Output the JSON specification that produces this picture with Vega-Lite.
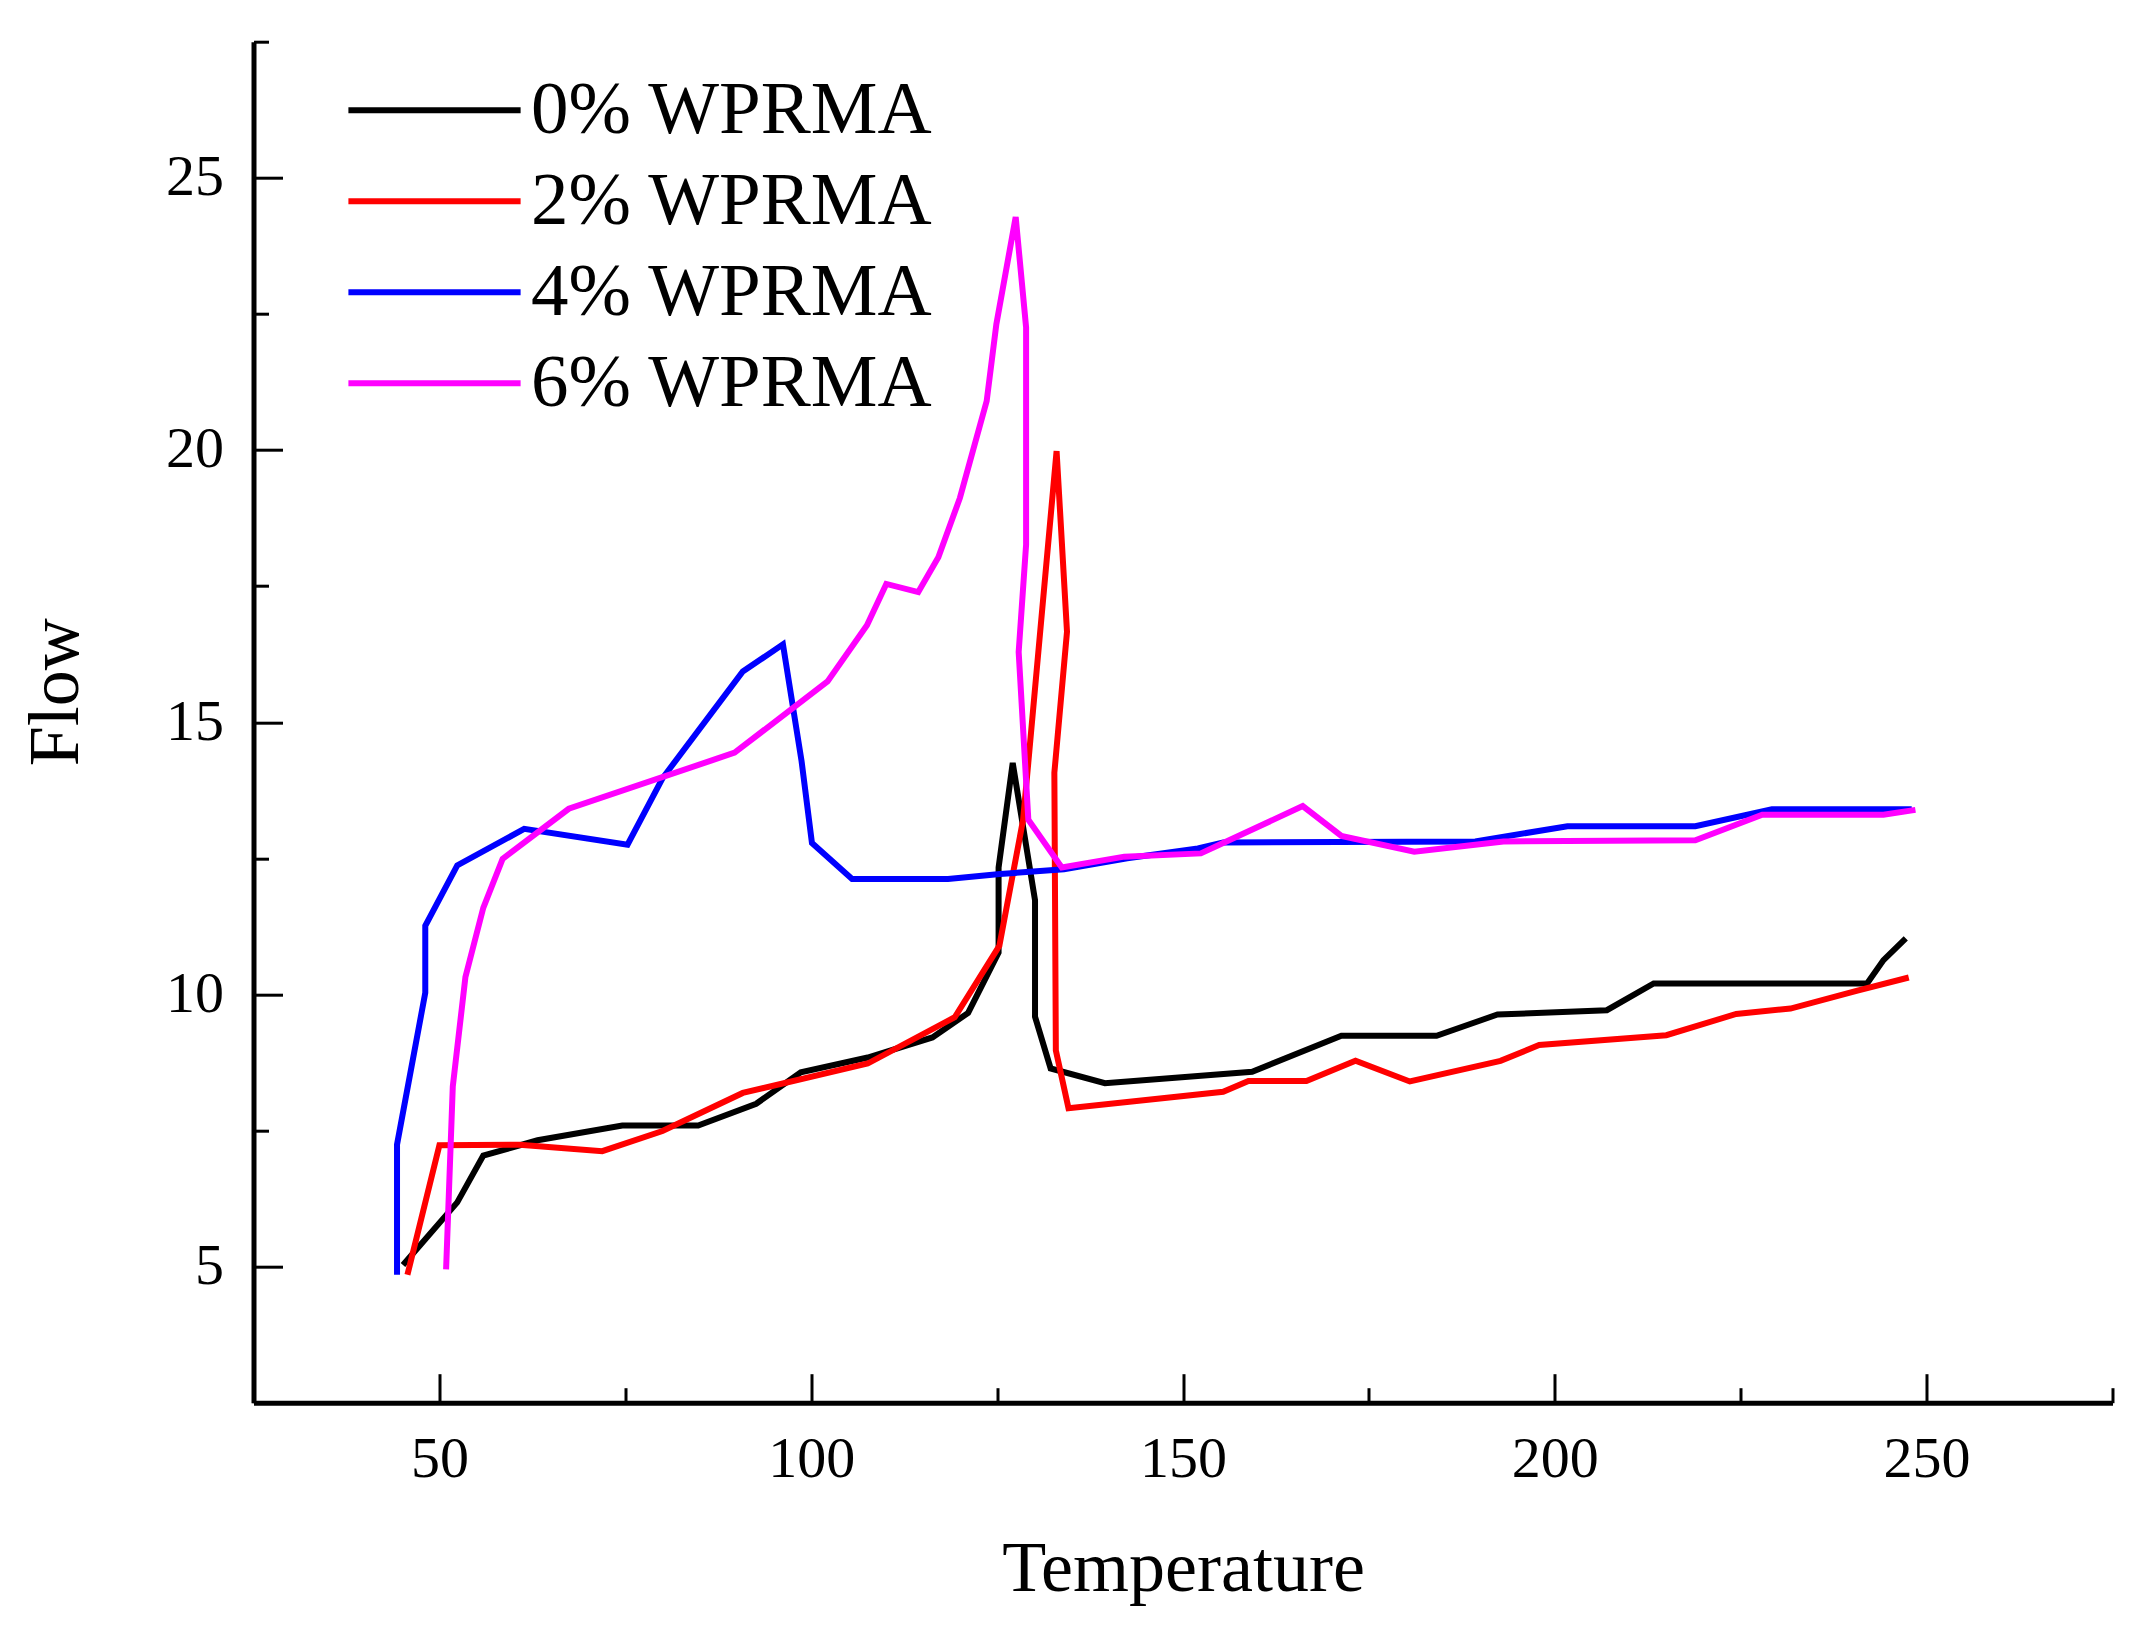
{
  "$schema": "https://vega.github.io/schema/vega-lite/v6.json",
  "width": 1859,
  "height": 1361,
  "autosize": {"type": "none"},
  "padding": {"left": 253.5, "top": 41.7, "right": 26.5, "bottom": 228},
  "background": "white",
  "config": {
    "view": {"stroke": null},
    "axis": {
      "labelFont": "Liberation Serif", "labelFontSize": 58, "labelColor": "black",
      "titleFont": "Liberation Serif", "titleFontSize": 72, "titleFontWeight": "normal", "titleColor": "black",
      "domainColor": "black", "domainWidth": 5, "tickColor": "black", "tickWidth": 3, "grid": false
    },
    "legend": {
      "labelFont": "Liberation Serif", "labelFontSize": 75, "labelColor": "black", "labelLimit": 0
    }
  },
  "data": {"values": [
    {"s":"0% WPRMA","i":0,"t":45.1,"f":5.03},
    {"s":"0% WPRMA","i":1,"t":52.4,"f":6.18},
    {"s":"0% WPRMA","i":2,"t":55.9,"f":7.04},
    {"s":"0% WPRMA","i":3,"t":63.2,"f":7.32},
    {"s":"0% WPRMA","i":4,"t":74.6,"f":7.59},
    {"s":"0% WPRMA","i":5,"t":84.8,"f":7.59},
    {"s":"0% WPRMA","i":6,"t":92.6,"f":7.99},
    {"s":"0% WPRMA","i":7,"t":98.6,"f":8.57},
    {"s":"0% WPRMA","i":8,"t":107.6,"f":8.84},
    {"s":"0% WPRMA","i":9,"t":116.3,"f":9.21},
    {"s":"0% WPRMA","i":10,"t":121.1,"f":9.66},
    {"s":"0% WPRMA","i":11,"t":125.2,"f":10.77},
    {"s":"0% WPRMA","i":12,"t":125.2,"f":12.33},
    {"s":"0% WPRMA","i":13,"t":127.1,"f":14.25},
    {"s":"0% WPRMA","i":14,"t":130.1,"f":11.73},
    {"s":"0% WPRMA","i":15,"t":130.1,"f":9.59},
    {"s":"0% WPRMA","i":16,"t":132.2,"f":8.64},
    {"s":"0% WPRMA","i":17,"t":139.5,"f":8.37},
    {"s":"0% WPRMA","i":18,"t":159.3,"f":8.58},
    {"s":"0% WPRMA","i":19,"t":171.3,"f":9.24},
    {"s":"0% WPRMA","i":20,"t":184.1,"f":9.24},
    {"s":"0% WPRMA","i":21,"t":192.3,"f":9.63},
    {"s":"0% WPRMA","i":22,"t":207.0,"f":9.71},
    {"s":"0% WPRMA","i":23,"t":213.3,"f":10.2},
    {"s":"0% WPRMA","i":24,"t":242.0,"f":10.2},
    {"s":"0% WPRMA","i":25,"t":244.2,"f":10.63},
    {"s":"0% WPRMA","i":26,"t":247.2,"f":11.03},

    {"s":"2% WPRMA","i":0,"t":45.7,"f":4.85},
    {"s":"2% WPRMA","i":1,"t":50.0,"f":7.23},
    {"s":"2% WPRMA","i":2,"t":60.8,"f":7.24},
    {"s":"2% WPRMA","i":3,"t":71.9,"f":7.12},
    {"s":"2% WPRMA","i":4,"t":80.0,"f":7.49},
    {"s":"2% WPRMA","i":5,"t":90.8,"f":8.19},
    {"s":"2% WPRMA","i":6,"t":107.6,"f":8.73},
    {"s":"2% WPRMA","i":7,"t":119.3,"f":9.58},
    {"s":"2% WPRMA","i":8,"t":125.3,"f":10.89},
    {"s":"2% WPRMA","i":9,"t":128.5,"f":13.21},
    {"s":"2% WPRMA","i":10,"t":133.0,"f":19.98},
    {"s":"2% WPRMA","i":11,"t":134.4,"f":16.66},
    {"s":"2% WPRMA","i":12,"t":132.7,"f":14.07},
    {"s":"2% WPRMA","i":13,"t":132.9,"f":8.97},
    {"s":"2% WPRMA","i":14,"t":134.6,"f":7.91},
    {"s":"2% WPRMA","i":15,"t":155.4,"f":8.21},
    {"s":"2% WPRMA","i":16,"t":158.8,"f":8.41},
    {"s":"2% WPRMA","i":17,"t":166.6,"f":8.41},
    {"s":"2% WPRMA","i":18,"t":173.2,"f":8.78},
    {"s":"2% WPRMA","i":19,"t":180.5,"f":8.4},
    {"s":"2% WPRMA","i":20,"t":192.7,"f":8.78},
    {"s":"2% WPRMA","i":21,"t":197.9,"f":9.07},
    {"s":"2% WPRMA","i":22,"t":215.0,"f":9.25},
    {"s":"2% WPRMA","i":23,"t":224.4,"f":9.64},
    {"s":"2% WPRMA","i":24,"t":231.7,"f":9.74},
    {"s":"2% WPRMA","i":25,"t":240.7,"f":10.07},
    {"s":"2% WPRMA","i":26,"t":247.6,"f":10.31},

    {"s":"4% WPRMA","i":0,"t":44.3,"f":4.85},
    {"s":"4% WPRMA","i":1,"t":44.3,"f":7.24},
    {"s":"4% WPRMA","i":2,"t":48.1,"f":10.03},
    {"s":"4% WPRMA","i":3,"t":48.1,"f":11.26},
    {"s":"4% WPRMA","i":4,"t":52.4,"f":12.37},
    {"s":"4% WPRMA","i":5,"t":61.4,"f":13.04},
    {"s":"4% WPRMA","i":6,"t":75.3,"f":12.75},
    {"s":"4% WPRMA","i":7,"t":80.0,"f":13.97},
    {"s":"4% WPRMA","i":8,"t":90.8,"f":15.93},
    {"s":"4% WPRMA","i":9,"t":96.2,"f":16.43},
    {"s":"4% WPRMA","i":10,"t":98.7,"f":14.29},
    {"s":"4% WPRMA","i":11,"t":100.1,"f":12.78},
    {"s":"4% WPRMA","i":12,"t":105.5,"f":12.12},
    {"s":"4% WPRMA","i":13,"t":118.4,"f":12.12},
    {"s":"4% WPRMA","i":14,"t":125.4,"f":12.21},
    {"s":"4% WPRMA","i":15,"t":134.0,"f":12.3},
    {"s":"4% WPRMA","i":16,"t":142.5,"f":12.5},
    {"s":"4% WPRMA","i":17,"t":152.0,"f":12.68},
    {"s":"4% WPRMA","i":18,"t":155.4,"f":12.79},
    {"s":"4% WPRMA","i":19,"t":189.3,"f":12.81},
    {"s":"4% WPRMA","i":20,"t":201.7,"f":13.09},
    {"s":"4% WPRMA","i":21,"t":218.9,"f":13.09},
    {"s":"4% WPRMA","i":22,"t":229.2,"f":13.4},
    {"s":"4% WPRMA","i":23,"t":248.0,"f":13.4},

    {"s":"6% WPRMA","i":0,"t":50.9,"f":4.95},
    {"s":"6% WPRMA","i":1,"t":51.8,"f":8.31},
    {"s":"6% WPRMA","i":2,"t":53.5,"f":10.32},
    {"s":"6% WPRMA","i":3,"t":55.9,"f":11.59},
    {"s":"6% WPRMA","i":4,"t":58.5,"f":12.49},
    {"s":"6% WPRMA","i":5,"t":67.4,"f":13.41},
    {"s":"6% WPRMA","i":6,"t":89.7,"f":14.44},
    {"s":"6% WPRMA","i":7,"t":102.2,"f":15.75},
    {"s":"6% WPRMA","i":8,"t":107.5,"f":16.78},
    {"s":"6% WPRMA","i":9,"t":110.1,"f":17.54},
    {"s":"6% WPRMA","i":10,"t":114.4,"f":17.39},
    {"s":"6% WPRMA","i":11,"t":117.1,"f":18.03},
    {"s":"6% WPRMA","i":12,"t":120.0,"f":19.12},
    {"s":"6% WPRMA","i":13,"t":123.6,"f":20.9},
    {"s":"6% WPRMA","i":14,"t":124.9,"f":22.31},
    {"s":"6% WPRMA","i":15,"t":127.5,"f":24.28},
    {"s":"6% WPRMA","i":16,"t":128.9,"f":22.25},
    {"s":"6% WPRMA","i":17,"t":128.9,"f":18.26},
    {"s":"6% WPRMA","i":18,"t":127.9,"f":16.29},
    {"s":"6% WPRMA","i":19,"t":129.2,"f":13.21},
    {"s":"6% WPRMA","i":20,"t":133.7,"f":12.33},
    {"s":"6% WPRMA","i":21,"t":142.1,"f":12.53},
    {"s":"6% WPRMA","i":22,"t":152.4,"f":12.59},
    {"s":"6% WPRMA","i":23,"t":155.4,"f":12.78},
    {"s":"6% WPRMA","i":24,"t":166.1,"f":13.46},
    {"s":"6% WPRMA","i":25,"t":171.3,"f":12.91},
    {"s":"6% WPRMA","i":26,"t":181.1,"f":12.62},
    {"s":"6% WPRMA","i":27,"t":193.1,"f":12.81},
    {"s":"6% WPRMA","i":28,"t":218.9,"f":12.83},
    {"s":"6% WPRMA","i":29,"t":227.9,"f":13.3},
    {"s":"6% WPRMA","i":30,"t":244.2,"f":13.3},
    {"s":"6% WPRMA","i":31,"t":248.5,"f":13.39}
  ]},
  "resolve": {"axis": {"x": "independent", "y": "independent"}},
  "layer": [
    {
      "mark": {"type": "line", "opacity": 0},
      "encoding": {
        "x": {"field": "t", "type": "quantitative", "scale": {"domain": [25, 275], "nice": false, "zero": false},
          "axis": {"orient": "bottom", "values": [25, 75, 125, 175, 225, 275], "tickSize": -15, "labels": false, "domain": false, "title": null}},
        "y": {"field": "f", "type": "quantitative", "scale": {"domain": [2.5, 27.5], "nice": false, "zero": false},
          "axis": {"orient": "left", "values": [2.5, 7.5, 12.5, 17.5, 22.5, 27.5], "tickSize": -15, "labels": false, "domain": false, "title": null}},
        "order": {"field": "i", "type": "quantitative"},
        "detail": {"field": "s", "type": "nominal"}
      }
    },
    {
      "mark": {"type": "line", "strokeWidth": 6, "strokeJoin": "miter"},
      "encoding": {
        "x": {"field": "t", "type": "quantitative",
          "axis": {"orient": "bottom", "values": [50, 100, 150, 200, 250], "tickSize": -29, "labelPadding": 57, "title": "Temperature", "titlePadding": 45}},
        "y": {"field": "f", "type": "quantitative",
          "axis": {"orient": "left", "values": [5, 10, 15, 20, 25], "tickSize": -29, "labelPadding": 59, "title": "Flow", "titlePadding": 73, "titleY": 650}},
        "order": {"field": "i", "type": "quantitative"},
        "color": {"field": "s", "type": "nominal",
          "scale": {"domain": ["0% WPRMA", "2% WPRMA", "4% WPRMA", "6% WPRMA"], "range": ["#000000", "#ff0000", "#0000ff", "#ff00ff"]},
          "legend": {"title": null, "orient": "none", "legendX": 143.5, "legendY": 31, "symbolType": "M-3,0L3,0", "symbolSize": 3295, "symbolStrokeWidth": 6, "symbolStrokeCap": "round", "symbolFillColor": "transparent", "labelOffset": 59, "rowPadding": 15, "padding": 0}}
      }
    }
  ]
}
